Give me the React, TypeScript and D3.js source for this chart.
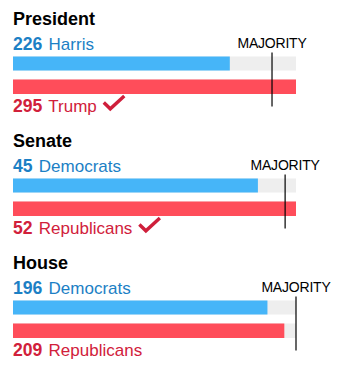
import React, { useLayoutEffect, useRef, useState } from "react";
import * as d3 from "d3";

const races = ["President", "Senate", "House"];
const demLabels = ["Harris", "Democrats", "Democrats"];
const demValues = [226, 45, 196];
const repLabels = ["Trump", "Republicans", "Republicans"];
const repValues = [295, 52, 209];
const majorityValues = [270, 50, 218];
const repWon = [true, true, false];

const W = 343;
const H = 372;
const FONT = "'Liberation Sans', Arial, Helvetica, sans-serif";
const BLUE_BAR = "#46b5f8";
const RED_BAR = "#ff4d5a";
const TRACK = "#eeeeee";
const BLUE_TEXT = "#1c80c5";
const RED_TEXT = "#d1203b";

function Race({ i }: { i: number }) {
  const top = i * 122;
  const domainMax = d3.max([demValues[i], repValues[i], majorityValues[i]]) as number;
  const x = d3.scaleLinear().domain([0, domainMax]).range([13, 296]);
  const repRef = useRef<SVGTextElement>(null);
  const [repW, setRepW] = useState(0);
  useLayoutEffect(() => {
    if (repRef.current) setRepW(repRef.current.getComputedTextLength());
  }, []);
  const mx = x(majorityValues[i]);
  const blueY = top + 56.5;
  const redY = top + 79.5;
  const bottomBase = top + 112;
  const cx = x(0) + repW + 8.5;
  const check = d3.line()([
    [cx, bottomBase - 9.5],
    [cx + 6.5, bottomBase - 3.2],
    [cx + 20.5, bottomBase - 16],
  ]);
  return (
    <g>
      <text x={13} y={top + 25} fontSize={18} fontWeight="bold" fill="#000">
        {races[i]}
      </text>
      <text x={13} y={top + 49.5} fontSize={17} fill={BLUE_TEXT}>
        <tspan fontWeight="bold" fontSize={17.6}>{demValues[i]}</tspan>
        <tspan dx={1.5}> {demLabels[i]}</tspan>
      </text>
      <rect x={x(0)} y={blueY} width={x(domainMax) - x(0)} height={14} fill={TRACK} />
      <rect x={x(0)} y={blueY} width={x(demValues[i]) - x(0)} height={14} fill={BLUE_BAR} />
      <rect x={x(0)} y={redY} width={x(domainMax) - x(0)} height={14.5} fill={TRACK} />
      <rect x={x(0)} y={redY} width={x(repValues[i]) - x(0)} height={14.5} fill={RED_BAR} />
      <text ref={repRef} x={13} y={bottomBase} fontSize={17} fill={RED_TEXT}>
        <tspan fontWeight="bold" fontSize={17.6}>{repValues[i]}</tspan>
        <tspan dx={1.5}> {repLabels[i]}</tspan>
      </text>
      {repWon[i] && repW > 0 && (
        <path d={check || ""} fill="none" stroke="#cf1f3b" strokeWidth={3.4} strokeLinejoin="miter" />
      )}
      <line x1={mx} x2={mx} y1={top + 52.5} y2={top + 106.5} stroke="#000" strokeWidth={1.2} />
      <text x={mx} y={top + 47.5} fontSize={14} textAnchor="middle" letterSpacing={-0.2} fill="#000">
        MAJORITY
      </text>
    </g>
  );
}

export default function App() {
  return (
    <svg
      width={W}
      height={H}
      style={{ position: "absolute", left: 0, top: 0, background: "#fff" }}
      fontFamily={FONT}
    >
      {races.map((_, i) => (
        <Race key={i} i={i} />
      ))}
    </svg>
  );
}
